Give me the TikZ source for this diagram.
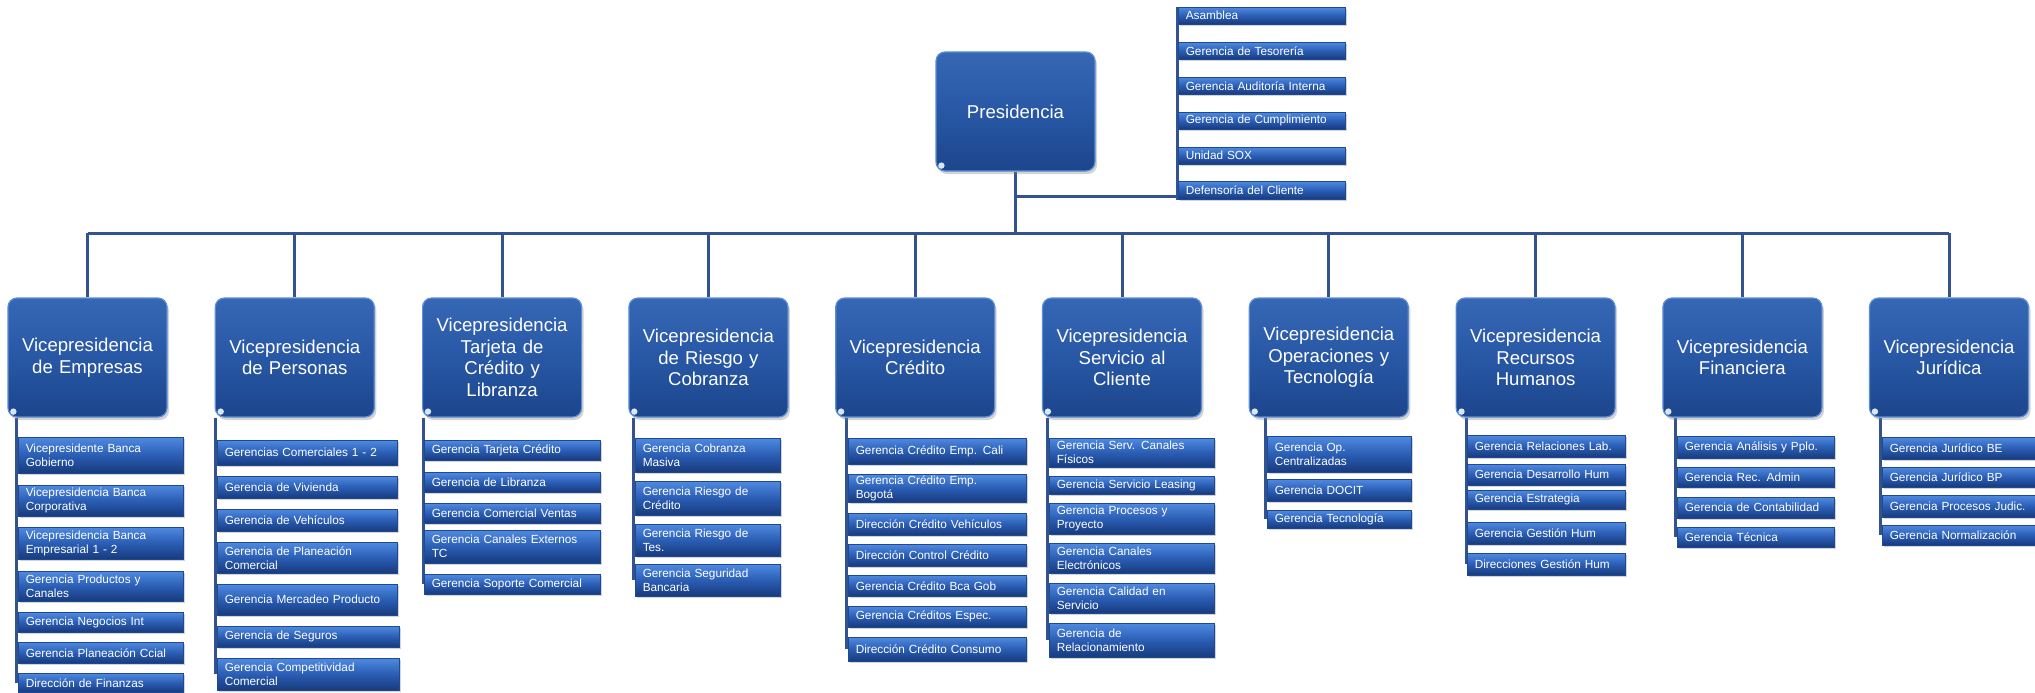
\documentclass[tikz,border=0pt]{standalone}
\usepackage{fontspec}
\setmainfont{Liberation Sans}
\usetikzlibrary{shadows,calc}
\definecolor{vptop}{HTML}{3667B5}
\definecolor{vpmid}{HTML}{2858A5}
\definecolor{vpbot}{HTML}{1C458C}
\definecolor{vprim}{HTML}{5C8FD6}
\definecolor{subtop}{HTML}{4F8AE0}
\definecolor{submid}{HTML}{2A5DB4}
\definecolor{subbot}{HTML}{173A7C}
\definecolor{subedge}{HTML}{1E4A94}
\definecolor{lineblue}{HTML}{33538F}
\definecolor{dotcol}{HTML}{D8E6F8}
\pgfdeclarelayer{background}
\pgfsetlayers{background,main}
\newcommand\sbx[6]{%
  \pgfmathsetmacro\sbw{#4-#2-15}%
  \pgfmathsetmacro\sbh{#5-#3}%
  \node[subbox, text width=\sbw pt, minimum height=\sbh pt, anchor=north west] (#1) at (#2,#3) {#6};}
\begin{document}
\begin{tikzpicture}[x=1pt,y=-1pt,
  vpbox/.style={rectangle, rounded corners=9pt, draw=vprim, line width=1.2pt,
    top color=vptop, bottom color=vpbot, middle color=vpmid,
    minimum width=159pt, minimum height=119pt, text width=152pt, align=center,
    text=white, font=\fontsize{18.6}{21.5}\selectfont, inner sep=0pt,
    drop shadow={opacity=0.35, shadow xshift=2pt, shadow yshift=-3pt}},
  subbox/.style={rectangle, draw=subedge, line width=0.5pt,
    top color=subtop, bottom color=subbot, middle color=submid,
    inner xsep=7.5pt, inner ysep=1.5pt, align=left, text=white,
    font=\fontsize{11.8}{14}\selectfont,
    drop shadow={opacity=0.35, shadow xshift=1.5pt, shadow yshift=-2pt}},
  conn/.style={draw=lineblue, line width=3pt}]
\useasboundingbox (0,0) rectangle (2035,693);

% top level
\node[vpbox] (pres) at (1015.5,111.5) {Presidencia};

% staff boxes
\sbx{a1}{1178}{7}{1345}{24}{Asamblea}
\sbx{a2}{1178}{42}{1345}{59}{Gerencia de Tesorería}
\sbx{a3}{1178}{77}{1345}{94}{Gerencia Auditoría Interna}
\sbx{a4}{1178}{112}{1345}{129}{Gerencia de Cumplimiento}
\sbx{a5}{1178}{147}{1345}{164}{Unidad SOX}
\sbx{a6}{1178}{181}{1345}{199}{Defensoría del Cliente}

% vice-presidencies
\node[vpbox] (vE) at (87.5,357.5) {Vicepresidencia\\de Empresas};
\node[vpbox] (vP) at (294.8,357.5) {Vicepresidencia\\de Personas};
\node[vpbox] (vT) at (502.1,357.5) {Vicepresidencia\\Tarjeta de\\Crédito y\\Libranza};
\node[vpbox] (vR) at (708.4,357.5) {Vicepresidencia\\de Riesgo y\\Cobranza};
\node[vpbox] (vC) at (915.2,357.5) {Vicepresidencia\\Crédito};
\node[vpbox] (vS) at (1122,357.5) {Vicepresidencia\\Servicio al\\Cliente};
\node[vpbox] (vO) at (1328.8,357.5) {Vicepresidencia\\Operaciones y\\Tecnología};
\node[vpbox] (vH) at (1535.6,357.5) {Vicepresidencia\\Recursos\\Humanos};
\node[vpbox] (vF) at (1742.4,357.5) {Vicepresidencia\\Financiera};
\node[vpbox] (vJ) at (1949,357.5) {Vicepresidencia\\Jurídica};

% Empresas
\sbx{e1}{18}{437}{183}{473}{Vicepresidente Banca\\Gobierno}
\sbx{e2}{18}{485}{183}{516}{Vicepresidencia Banca\\Corporativa}
\sbx{e3}{18}{527}{183}{559}{Vicepresidencia Banca\\Empresarial 1 - 2}
\sbx{e4}{18}{571}{183}{601}{Gerencia Productos y\\Canales}
\sbx{e5}{18}{612}{183}{632}{Gerencia Negocios Int}
\sbx{e6}{18}{642}{183}{663}{Gerencia Planeación Ccial}
\sbx{e7}{18}{673}{183}{692}{Dirección de Finanzas}
% Personas
\sbx{p1}{217}{440}{397}{465}{Gerencias Comerciales 1 - 2}
\sbx{p2}{217}{476}{397}{498}{Gerencia de Vivienda}
\sbx{p3}{217}{509}{397}{531}{Gerencia de Vehículos}
\sbx{p4}{217}{542}{397}{573}{Gerencia de Planeación\\Comercial}
\sbx{p5}{217}{584}{397}{615}{Gerencia Mercadeo Producto}
\sbx{p6}{217}{626}{399}{647}{Gerencia de Seguros}
\sbx{p7}{217}{658}{399}{690}{Gerencia Competitividad\\Comercial}
% Tarjeta
\sbx{t1}{424}{440}{600}{460}{Gerencia Tarjeta Crédito}
\sbx{t2}{424}{472}{600}{492}{Gerencia de Libranza}
\sbx{t3}{424}{503}{600}{523}{Gerencia Comercial Ventas}
\sbx{t4}{424}{530}{600}{563}{Gerencia Canales Externos\\TC}
\sbx{t5}{424}{574}{600}{594}{Gerencia Soporte Comercial}
% Riesgo
\sbx{r1}{635}{438}{780}{472}{Gerencia Cobranza\\Masiva}
\sbx{r2}{635}{481}{780}{515}{Gerencia Riesgo de\\Crédito}
\sbx{r3}{635}{524}{780}{556}{Gerencia Riesgo de\\Tes.}
\sbx{r4}{635}{564}{780}{596}{Gerencia Seguridad\\Bancaria}
% Credito
\sbx{c1}{848}{438}{1026}{464}{Gerencia Crédito Emp. Cali}
\sbx{c2}{848}{474}{1026}{502}{Gerencia Crédito Emp.\\Bogotá}
\sbx{c3}{848}{513}{1026}{535}{Dirección Crédito Vehículos}
\sbx{c4}{848}{544}{1026}{566}{Dirección Control Crédito}
\sbx{c5}{848}{575}{1026}{596}{Gerencia Crédito Bca Gob}
\sbx{c6}{848}{606}{1026}{627}{Gerencia Créditos Espec.}
\sbx{c7}{848}{637}{1026}{661}{Dirección Crédito Consumo}
% Servicio
\sbx{s1}{1049}{438}{1214}{467}{Gerencia Serv. Canales\\Físicos}
\sbx{s2}{1049}{476}{1214}{494}{Gerencia Servicio Leasing}
\sbx{s3}{1049}{503}{1214}{534}{Gerencia Procesos y\\Proyecto}
\sbx{s4}{1049}{543}{1214}{573}{Gerencia Canales\\Electrónicos}
\sbx{s5}{1049}{583}{1214}{613}{Gerencia Calidad en\\Servicio}
\sbx{s6}{1049}{623}{1214}{657}{Gerencia de\\Relacionamiento}
% Operaciones
\sbx{o1}{1267}{436}{1411}{472}{Gerencia Op.\\Centralizadas}
\sbx{o2}{1267}{479}{1411}{501}{Gerencia DOCIT}
\sbx{o3}{1267}{510}{1411}{528}{Gerencia Tecnología}
% RRHH
\sbx{h1}{1467}{435}{1625}{457}{Gerencia Relaciones Lab.}
\sbx{h2}{1467}{464}{1625}{485}{Gerencia Desarrollo Hum}
\sbx{h3}{1467}{490}{1625}{509}{Gerencia Estrategia}
\sbx{h4}{1467}{522}{1625}{544}{Gerencia Gestión Hum}
\sbx{h5}{1467}{553}{1625}{575}{Direcciones Gestión Hum}
% Financiera
\sbx{f1}{1677}{436}{1834}{458}{Gerencia Análisis y Pplo.}
\sbx{f2}{1677}{467}{1834}{487}{Gerencia Rec. Admin}
\sbx{f3}{1677}{497}{1834}{518}{Gerencia de Contabilidad}
\sbx{f4}{1677}{527}{1834}{547}{Gerencia Técnica}
% Juridica
\sbx{j1}{1882}{437}{2037}{459}{Gerencia Jurídico BE}
\sbx{j2}{1882}{467}{2037}{487}{Gerencia Jurídico BP}
\sbx{j3}{1882}{495}{2037}{517}{Gerencia Procesos Judic.}
\sbx{j4}{1882}{525}{2037}{545}{Gerencia Normalización}

% corner dots
\foreach \n in {pres,vE,vP,vT,vR,vC,vS,vO,vH,vF,vJ}
  \fill[dotcol] ([xshift=6pt,yshift=6pt]\n.south west) circle (3.2pt);

% connectors
\coordinate (busy) at (0,233);
\coordinate (stafy) at (0,196);
\begin{pgfonlayer}{background}
\draw[conn] (pres.south) -- (pres.south |- busy);
\draw[conn] (vE.north |- busy) -- (vJ.north |- busy);
\foreach \n in {vE,vP,vT,vR,vC,vS,vO,vH,vF,vJ}
  \draw[conn] (\n.north |- busy) -- (\n.north);
\draw[conn] (pres.south |- stafy) -- ([xshift=-1pt]a6.west |- stafy);
\draw[conn] ([xshift=-1pt]a1.north west) -- ([xshift=-1pt]a6.south west);
\foreach \v/\a/\b/\dx in {vE/e1/e7/2,vP/p1/p7/1.5,vT/t1/t5/1,vR/r1/r4/2,vC/c1/c7/1.5,
    vS/s1/s6/1.5,vO/o1/o3/1.5,vH/h1/h5/1,vF/f1/f4/1.5,vJ/j1/j4/1.5}
  \draw[conn] ([xshift=-\dx pt]\a.west |- \v.south) -- ([xshift=-\dx pt]\b.west);
\end{pgfonlayer}
\end{tikzpicture}
\end{document}
